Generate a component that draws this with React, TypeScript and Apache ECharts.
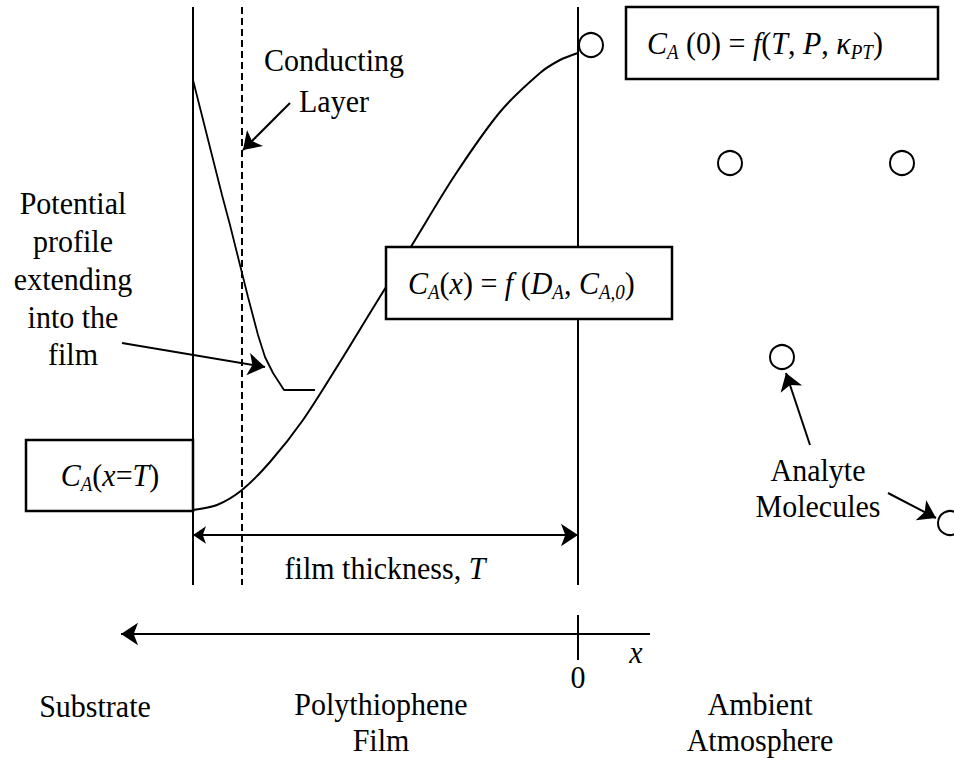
import React, { useEffect, useRef } from "react";
import * as echarts from "echarts";

const FONT = '"Liberation Serif", "Times New Roman", serif';
const W = 954;
const H = 761;

// Concentration profile C_A(x) (diagram coordinates)
const concX = [193, 217, 242, 270, 303, 340, 370, 386, 412, 455, 500, 540, 560, 578];
const concY = [510, 505, 490, 462, 420, 362, 313, 287, 245, 175, 112, 73, 60, 53];

// Potential profile extending into the film
const potX = [193, 222, 230, 240, 248, 258, 265, 273, 284, 315];
const potY = [80, 195, 225, 265, 297, 335, 357, 373, 390, 390];

// Film boundaries (substrate side, atmosphere side) and conducting layer
const boundaryX = [193, 578];
const layerX = [242];
const boundaryTop = 7;
const boundaryBottom = 585;

// Analyte molecules
const moleculeX = [591, 730, 902, 782, 950];
const moleculeY = [45, 163, 163, 357, 523];

// Arrows: [x1, y1, x2, y2], head at the second point
const singleArrows = [
  [290, 103, 243, 150],
  [122, 343, 265, 367],
  [810, 445, 786, 373],
  [888, 493, 936, 518],
  [650, 634, 121, 634],
];
const doubleArrows = [[193, 535, 578, 535]];

// Origin tick of the x axis
const tickX = 578;
const tickY = [615, 660];

// Boxes: [x, y, w, h]
const boxes = [
  [626, 7, 312, 72],
  [386, 247, 286, 72],
  [26, 440, 167, 71],
];

const FS = 30;
const SY = 1.08;

function App() {
  const ref = useRef<HTMLDivElement>(null);
  useEffect(() => {
    document.body.style.margin = "0";
    const chart = echarts.init(ref.current!, null, { renderer: "svg" });

    const rich = {
      r: { fontSize: FS, fontFamily: FONT, lineHeight: 36, color: "#000" },
      i: { fontSize: FS, fontFamily: FONT, fontStyle: "italic", lineHeight: 36, color: "#000" },
      s: { fontSize: 19, fontFamily: FONT, fontStyle: "italic", lineHeight: 20, verticalAlign: "bottom", color: "#000" },
    };

    const txt = (x: number, y: number, text: string, align = "center", extra: any = {}) => ({
      type: "text",
      x,
      y,
      scaleY: SY,
      z: 30,
      style: {
        text,
        fill: "#000",
        fontSize: FS,
        fontFamily: FONT,
        align,
        verticalAlign: "middle",
        lineHeight: 35,
        ...extra,
      },
    });
    const richTxt = (x: number, y: number, text: string, align = "left") => ({
      type: "text",
      x,
      y,
      scaleY: SY,
      z: 30,
      style: {
        text,
        rich,
        fill: "#000",
        fontSize: FS,
        fontFamily: FONT,
        align,
        verticalAlign: "middle",
      },
    });

    const lineSeries = (xs: number[], ys: number[], extra: any = {}) => ({
      type: "line",
      data: xs.map((x, k) => [x, ys[k]]),
      symbol: "none",
      silent: true,
      z: 3,
      lineStyle: { color: "#000", width: 2 },
      ...extra,
    });

    const series: any[] = [];
    boundaryX.forEach((x) =>
      series.push(lineSeries([x, x], [boundaryTop, boundaryBottom]))
    );
    layerX.forEach((x) =>
      series.push(
        lineSeries([x, x], [boundaryTop, boundaryBottom], {
          lineStyle: { color: "#000", width: 2, type: [7, 4] },
        })
      )
    );
    series.push(lineSeries([tickX, tickX], tickY));
    series.push(lineSeries(concX, concY, { smooth: 0.3 }));
    series.push(lineSeries(potX, potY, { lineStyle: { color: "#000", width: 1.8 } }));
    series.push({
      type: "lines",
      coordinateSystem: "cartesian2d",
      silent: true,
      z: 4,
      symbol: ["none", "arrow"],
      symbolSize: [13, 17],
      lineStyle: { color: "#000", width: 2, opacity: 1, curveness: 0 },
      data: singleArrows.map((a) => ({ coords: [[a[0], a[1]], [a[2], a[3]]] })),
    });
    series.push({
      type: "lines",
      coordinateSystem: "cartesian2d",
      silent: true,
      z: 4,
      symbol: ["arrow", "arrow"],
      symbolSize: [13, 17],
      lineStyle: { color: "#000", width: 2, opacity: 1, curveness: 0 },
      data: doubleArrows.map((a) => ({ coords: [[a[0], a[1]], [a[2], a[3]]] })),
    });
    series.push({
      type: "scatter",
      silent: true,
      z: 5,
      symbol: "circle",
      symbolSize: 24,
      itemStyle: { color: "#fff", borderColor: "#000", borderWidth: 2, opacity: 1 },
      data: moleculeX.map((x, k) => [x, moleculeY[k]]),
    });

    const graphics: any[] = boxes.map((b) => ({
      type: "rect",
      z: 20,
      shape: { x: b[0], y: b[1], width: b[2], height: b[3] },
      style: { fill: "#fff", stroke: "#000", lineWidth: 2.5 },
    }));

    graphics.push(
      richTxt(647, 43, "{i|C}{s|A}{r| (0) = }{i|f}{r|(}{i|T}{r|, }{i|P}{r|, }{i|κ}{s|PT}{r|)}")
    );
    graphics.push(
      richTxt(408, 283, "{i|C}{s|A}{r|(}{i|x}{r|) = }{i|f}{r| (}{i|D}{s|A}{r|, }{i|C}{s|A,0}{r|)}")
    );
    graphics.push(richTxt(110, 475, "{i|C}{s|A}{r|(}{i|x}{r|=}{i|T}{r|)}", "center"));
    graphics.push(txt(334, 81, "Conducting\nLayer", "center", { lineHeight: 38 }));
    graphics.push(txt(73, 279, "Potential\nprofile\nextending\ninto the\nfilm"));
    graphics.push(
      richTxt(385, 568, "{r|film thickness, }{i|T}", "center")
    );
    graphics.push(txt(578, 677, "0"));
    graphics.push(txt(636, 652, "x", "center", { fontStyle: "italic" }));
    graphics.push(txt(818, 488, "Analyte\nMolecules", "center", { lineHeight: 34 }));
    graphics.push(txt(95, 706, "Substrate"));
    graphics.push(txt(381, 722, "Polythiophene\nFilm", "center", { lineHeight: 34 }));
    graphics.push(txt(760, 722, "Ambient\nAtmosphere", "center", { lineHeight: 34 }));

    chart.setOption({
      animation: false,
      backgroundColor: "#fff",
      grid: { left: 0, right: 0, top: 0, bottom: 0 },
      xAxis: { type: "value", min: 0, max: W, show: false },
      yAxis: { type: "value", min: 0, max: H, inverse: true, show: false },
      series,
      graphic: graphics,
    });
    return () => chart.dispose();
  }, []);
  return (
    <div
      ref={ref}
      style={{ position: "absolute", left: 0, top: 0, width: W, height: H, background: "#fff" }}
    />
  );
}

export default App;
